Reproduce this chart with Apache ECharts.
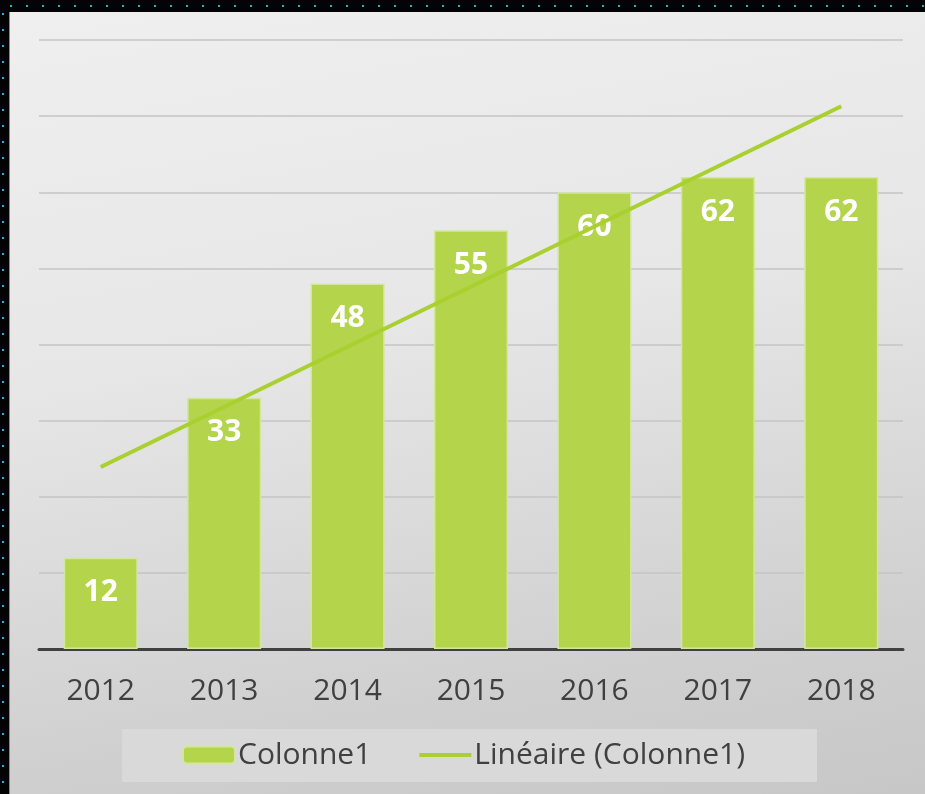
<!DOCTYPE html>
<html><head><meta charset="utf-8">
<script src="https://cdn.jsdelivr.net/npm/echarts@6/dist/echarts.min.js"></script>
<style>
html,body{margin:0;padding:0;width:925px;height:794px;overflow:hidden;background:#030303;}
#topdots{position:absolute;left:0;top:0;width:925px;height:12px;
 background-image:radial-gradient(circle, #19b5e6 0 1.2px, transparent 1.5px);
 background-size:16px 16px;background-position:3px -2px;}
#leftdots{position:absolute;left:0;top:0;width:8px;height:794px;
 background-image:radial-gradient(circle, #19b5e6 0 1.2px, transparent 1.5px);
 background-size:16px 16px;background-position:-5px 6px;}
#panel{position:absolute;left:9px;top:12px;width:916px;height:782px;
 background:linear-gradient(170deg,#efefef 0%,#e7e7e7 40%,#d0d0d0 80%,#c7c7c7 100%);
 border-left:1px solid #888;}
#chart{position:absolute;left:0;top:0;width:925px;height:794px;}
</style></head>
<body>
<div id="topdots"></div><div id="leftdots"></div><div id="panel"></div>
<div id="chart"></div>
<script>
const categories = ['2012','2013','2014','2015','2016','2017','2018'];
const colonne1 = [12, 33, 48, 55, 60, 62, 62];
// trendline endpoints (values at 2012 and 2018)
const trendline = [23.9, null, null, null, null, null, 71.3];

const chart = echarts.init(document.getElementById('chart'), null, {renderer:'canvas'});
const font = '"Open Sans", sans-serif';
chart.setOption({
  backgroundColor: 'transparent',
  animation: false,
  grid: {left: 39, right: 22, top: 40, bottom: 145},
  legend: {
    bottom: 12, left: 122,
    backgroundColor: '#d9d9d9', borderRadius: 0,
    padding: [11, 72, 12, 60],
    itemWidth: 52, itemHeight: 17, itemGap: 48,
    textStyle: {fontFamily: font, fontSize: 30, color: '#404040', padding: [0,0,0,-2]},
    data: [
      {name: 'Colonne1'},
      {name: 'Linéaire (Colonne1)', icon: 'path://M0,0 L52,0 L52,4 L0,4 Z'}
    ]
  },
  xAxis: {
    type: 'category', data: categories,
    axisLine: {lineStyle: {color: '#404040', width: 3}},
    axisTick: {show: false},
    axisLabel: {fontFamily: font, fontSize: 30, color: '#404040', margin: 27}
  },
  yAxis: {
    type: 'value', min: 0, max: 80, interval: 10,
    axisLabel: {show: false}, axisLine: {show: false}, axisTick: {show: false},
    splitLine: {lineStyle: {color: '#c4c4c4', width: 1.5}}
  },
  series: [
    {
      name: 'Colonne1', type: 'bar', data: colonne1, barCategoryGap: '40%',
      itemStyle: {color: '#b3d44b', borderColor: '#d3e79a', borderWidth: 1.5},
      label: {show: true, position: 'insideTop', distance: 20,
        fontFamily: font, fontSize: 30, fontWeight: 'bold', color: '#ffffff'}
    },
    {
      name: 'Linéaire (Colonne1)', type: 'line', data: trendline, connectNulls: true,
      symbol: 'none', z: 5,
      lineStyle: {color: '#a9d02f', width: 4},
      itemStyle: {color: '#a9d02f'}
    }
  ]
});
</script>
</body></html>
